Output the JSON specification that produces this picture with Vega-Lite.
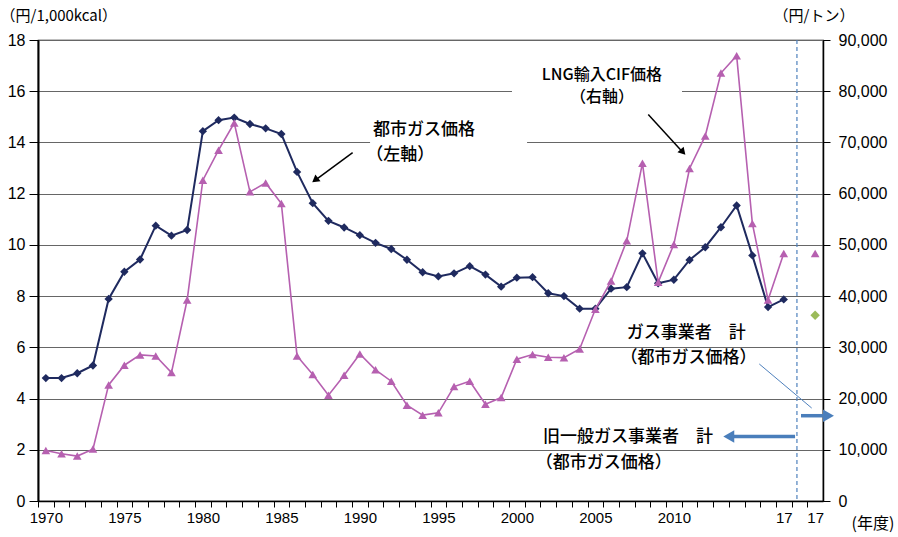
{
  "$schema": "https://vega.github.io/schema/vega-lite/v6.json",
  "autosize": {"type": "none"},
  "padding": {"left": 38, "top": 40, "right": 75, "bottom": 36},
  "width": 785,
  "height": 461,
  "background": "white",
  "config": {
    "view": {"stroke": "#000", "strokeWidth": 1.2},
    "axis": {"labelColor": "#000", "tickColor": "#000", "domainColor": "#000", "labelFont": "Liberation Sans", "titleFont": "Noto Sans CJK JP", "titleFontWeight": "normal", "titleColor": "#000"}
  },
  "datasets": {
    "main": [
      {"year": 1970, "gas": 4.80, "lng": 9860}, {"year": 1971, "gas": 4.80, "lng": 9220}, {"year": 1972, "gas": 4.99, "lng": 8770}, {"year": 1973, "gas": 5.29, "lng": 10130}, {"year": 1974, "gas": 7.89, "lng": 22670},
      {"year": 1975, "gas": 8.95, "lng": 26510}, {"year": 1976, "gas": 9.43, "lng": 28520}, {"year": 1977, "gas": 10.75, "lng": 28320}, {"year": 1978, "gas": 10.36, "lng": 25070}, {"year": 1979, "gas": 10.58, "lng": 39240},
      {"year": 1980, "gas": 14.44, "lng": 62630}, {"year": 1981, "gas": 14.87, "lng": 68500}, {"year": 1982, "gas": 14.97, "lng": 73800}, {"year": 1983, "gas": 14.72, "lng": 60350}, {"year": 1984, "gas": 14.55, "lng": 62100},
      {"year": 1985, "gas": 14.33, "lng": 58090}, {"year": 1986, "gas": 12.85, "lng": 28320}, {"year": 1987, "gas": 11.63, "lng": 24680}, {"year": 1988, "gas": 10.94, "lng": 20660}, {"year": 1989, "gas": 10.68, "lng": 24560},
      {"year": 1990, "gas": 10.38, "lng": 28710}, {"year": 1991, "gas": 10.08, "lng": 25600}, {"year": 1992, "gas": 9.84, "lng": 23390}, {"year": 1993, "gas": 9.42, "lng": 18710}, {"year": 1994, "gas": 8.93, "lng": 16760},
      {"year": 1995, "gas": 8.77, "lng": 17210}, {"year": 1996, "gas": 8.89, "lng": 22340}, {"year": 1997, "gas": 9.17, "lng": 23390}, {"year": 1998, "gas": 8.84, "lng": 18910}, {"year": 1999, "gas": 8.37, "lng": 20200},
      {"year": 2000, "gas": 8.72, "lng": 27680}, {"year": 2001, "gas": 8.74, "lng": 28580}, {"year": 2002, "gas": 8.11, "lng": 28070}, {"year": 2003, "gas": 8.00, "lng": 27990}, {"year": 2004, "gas": 7.51, "lng": 29690},
      {"year": 2005, "gas": 7.51, "lng": 37430}, {"year": 2006, "gas": 8.29, "lng": 42940}, {"year": 2007, "gas": 8.35, "lng": 50800}, {"year": 2008, "gas": 9.67, "lng": 65950}, {"year": 2009, "gas": 8.50, "lng": 42690},
      {"year": 2010, "gas": 8.64, "lng": 50100}, {"year": 2011, "gas": 9.41, "lng": 64910}, {"year": 2012, "gas": 9.91, "lng": 71270}, {"year": 2013, "gas": 10.69, "lng": 83550}, {"year": 2014, "gas": 11.54, "lng": 86940},
      {"year": 2015, "gas": 9.59, "lng": 54190}, {"year": 2016, "gas": 7.57, "lng": 39240}, {"year": 2017, "gas": 7.87, "lng": 48340}
    ],
    "extra": [{"year": 2019, "gas": 7.25, "lng": 48340}]
  },
  "encoding": {
    "x": {"field": "year", "type": "quantitative", "scale": {"domain": [1969.5, 2019.5], "nice": false, "zero": false},
      "axis": {"values": [1970,1971,1972,1973,1974,1975,1976,1977,1978,1979,1980,1981,1982,1983,1984,1985,1986,1987,1988,1989,1990,1991,1992,1993,1994,1995,1996,1997,1998,1999,2000,2001,2002,2003,2004,2005,2006,2007,2008,2009,2010,2011,2012,2013,2014,2015,2016,2017,2018,2019],
        "labelExpr": "datum.value <= 2010 && datum.value % 5 == 0 ? '' + datum.value : ((datum.value == 2017 || datum.value == 2019) ? '17' : '')",
        "ticks": true, "tickOffset": -7.85, "labelOffset": 7.85, "tickSize": 6, "tickWidth": 1, "labelFontSize": 15, "labelPadding": 3, "labelOverlap": false, "labelBound": false, "labelFlush": false,
        "domainWidth": 1.5, "grid": false,
        "title": "(年度)", "titleFontSize": 16, "titleAngle": 0, "titleAlign": "left", "titleBaseline": "middle", "titleX": 813, "titleY": 22}}
  },
  "layer": [
    {
      "layer": [
        {
          "data": {"values": [
            {"year": 1990.65, "year2": 2000.65, "v": 13.7, "v2": 14.3},
            {"year": 1999.69, "year2": 2010.52, "v": 15.7, "v2": 16.3}
          ]},
          "mark": {"type": "rect", "fill": "white"},
          "encoding": {
            "x2": {"field": "year2"},
            "y": {"field": "v", "type": "quantitative", "scale": {"domain": [0, 18], "nice": false, "zero": true},
              "axis": {"values": [0,2,4,6,8,10,12,14,16,18], "grid": true, "gridColor": "#666", "gridWidth": 1.2, "tickSize": 9, "labelPadding": 4, "labelFontSize": 16, "domainWidth": 2,
                "title": "（円/1,000kcal）", "titleFontSize": 15, "titleAngle": 0, "titleAlign": "left", "titleBaseline": "middle", "titleX": -38, "titleY": -25}},
            "y2": {"field": "v2"}
          }
        },
        {
          "data": {"values": [{"year": 2017.84}]},
          "mark": {"type": "rule", "color": "#4F81BD", "strokeDash": [4, 3], "strokeWidth": 1.2},
          "encoding": {}
        },
        {
          "data": {"name": "main"},
          "mark": {"type": "line", "color": "#1F2A5F", "strokeWidth": 2},
          "encoding": {
            "y": {"field": "gas", "type": "quantitative", "scale": {"domain": [0, 18]}}
          }
        },
        {
          "data": {"name": "main"},
          "mark": {"type": "point", "shape": "diamond", "filled": true, "size": 70, "color": "#1F2A5F", "opacity": 1},
          "encoding": {
            "y": {"field": "gas", "type": "quantitative", "scale": {"domain": [0, 18]}}
          }
        },
        {
          "data": {"name": "extra"},
          "mark": {"type": "point", "shape": "diamond", "filled": true, "size": 90, "color": "#9BBB59", "opacity": 1},
          "encoding": {
            "y": {"field": "gas", "type": "quantitative", "scale": {"domain": [0, 18]}}
          }
        },
        {
          "data": {"values": [
            {"year": 1989.54, "v": 13.60, "year2": 1987.1, "v2": 12.5},
            {"year": 2008.37, "v": 15.09, "year2": 2010.6, "v2": 13.6}
          ]},
          "mark": {"type": "rule", "color": "#000", "strokeWidth": 1.5},
          "encoding": {
            "x2": {"field": "year2"},
            "y": {"field": "v", "type": "quantitative", "scale": {"domain": [0, 18]}},
            "y2": {"field": "v2"}
          }
        },
        {
          "data": {"values": [{"year": 1987.15, "v": 12.53}]},
          "mark": {"type": "point", "shape": "triangle-up", "filled": true, "size": 70, "color": "#000", "opacity": 1, "angle": 232},
          "encoding": {
            "y": {"field": "v", "type": "quantitative", "scale": {"domain": [0, 18]}}
          }
        },
        {
          "data": {"values": [{"year": 2010.58, "v": 13.62}]},
          "mark": {"type": "point", "shape": "triangle-up", "filled": true, "size": 70, "color": "#000", "opacity": 1, "angle": 138},
          "encoding": {
            "y": {"field": "v", "type": "quantitative", "scale": {"domain": [0, 18]}}
          }
        },
        {
          "data": {"values": [{"year": 2015.44, "v": 5.35, "year2": 2018.78, "v2": 3.63}]},
          "mark": {"type": "rule", "color": "#4F81BD", "strokeWidth": 1},
          "encoding": {
            "x2": {"field": "year2"},
            "y": {"field": "v", "type": "quantitative", "scale": {"domain": [0, 18]}},
            "y2": {"field": "v2"}
          }
        },
        {
          "data": {"values": [
            {"year": 2018.1, "v": 3.33, "year2": 2019.8, "v2": 3.33},
            {"year": 2017.72, "v": 2.52, "year2": 2013.6, "v2": 2.52}
          ]},
          "mark": {"type": "rule", "color": "#4A7EBB", "strokeWidth": 3.5},
          "encoding": {
            "x2": {"field": "year2"},
            "y": {"field": "v", "type": "quantitative", "scale": {"domain": [0, 18]}},
            "y2": {"field": "v2"}
          }
        },
        {
          "data": {"values": [{"year": 2019.85, "v": 3.33}]},
          "mark": {"type": "point", "shape": "triangle-up", "filled": true, "size": 160, "color": "#4A7EBB", "opacity": 1, "angle": 90},
          "encoding": {
            "y": {"field": "v", "type": "quantitative", "scale": {"domain": [0, 18]}}
          }
        },
        {
          "data": {"values": [{"year": 2013.5, "v": 2.52}]},
          "mark": {"type": "point", "shape": "triangle-up", "filled": true, "size": 160, "color": "#4A7EBB", "opacity": 1, "angle": 270},
          "encoding": {
            "y": {"field": "v", "type": "quantitative", "scale": {"domain": [0, 18]}}
          }
        },
        {
          "data": {"values": [
            {"year": 1990.84, "v": 14.48, "label": "都市ガス価格"},
            {"year": 1990.4, "v": 13.5, "label": "（左軸）"},
            {"year": 2007.0, "v": 6.57, "label": "ガス事業者　計"},
            {"year": 2006.6, "v": 5.59, "label": "（都市ガス価格）"},
            {"year": 2001.67, "v": 2.51, "label": "旧一般ガス事業者　計"},
            {"year": 2001.2, "v": 1.5, "label": "（都市ガス価格）"}
          ]},
          "mark": {"type": "text", "align": "left", "baseline": "middle", "font": "Noto Sans CJK JP", "fontSize": 17, "fontWeight": 500, "color": "#000"},
          "encoding": {
            "y": {"field": "v", "type": "quantitative", "scale": {"domain": [0, 18]}},
            "text": {"field": "label"}
          }
        },
        {
          "data": {"values": [
            {"year": 2005.42, "v": 16.62, "label": "LNG輸入CIF価格"},
            {"year": 2005.42, "v": 15.76, "label": "（右軸）"}
          ]},
          "mark": {"type": "text", "align": "center", "baseline": "middle", "font": "Noto Sans CJK JP", "fontSize": 16, "fontWeight": 500, "color": "#000"},
          "encoding": {
            "y": {"field": "v", "type": "quantitative", "scale": {"domain": [0, 18]}},
            "text": {"field": "label"}
          }
        }
      ]
    },
    {
      "layer": [
        {
          "data": {"name": "main"},
          "mark": {"type": "line", "color": "#B660B0", "strokeWidth": 1.6},
          "encoding": {
            "y": {"field": "lng", "type": "quantitative", "scale": {"domain": [0, 90000], "nice": false},
              "axis": {"orient": "right", "values": [0,10000,20000,30000,40000,50000,60000,70000,80000,90000], "labelExpr": "format(datum.value, ',')", "grid": false, "tickSize": 7, "labelPadding": 8, "labelFontSize": 16, "domainWidth": 1.5,
                "title": "（円/トン）", "titleFontSize": 15, "titleAngle": 0, "titleAlign": "left", "titleBaseline": "middle", "titleX": -50, "titleY": -25}}
          }
        },
        {
          "data": {"name": "main"},
          "mark": {"type": "point", "shape": "triangle-up", "filled": true, "size": 75, "color": "#B660B0", "opacity": 1},
          "encoding": {
            "y": {"field": "lng", "type": "quantitative", "scale": {"domain": [0, 90000]}}
          }
        },
        {
          "data": {"name": "extra"},
          "mark": {"type": "point", "shape": "triangle-up", "filled": true, "size": 75, "color": "#B660B0", "opacity": 1},
          "encoding": {
            "y": {"field": "lng", "type": "quantitative", "scale": {"domain": [0, 90000]}}
          }
        }
      ]
    }
  ],
  "resolve": {"scale": {"y": "independent"}, "axis": {"y": "independent"}}
}
